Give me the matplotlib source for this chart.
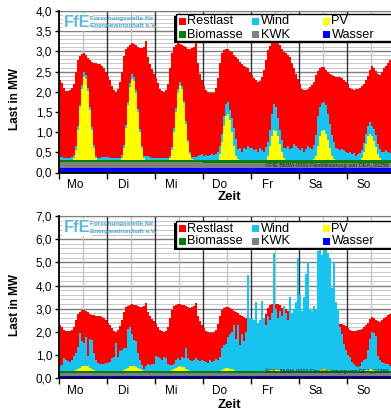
import numpy as np
import matplotlib
matplotlib.use("Agg")
import matplotlib.pyplot as plt
from matplotlib.patches import Rectangle

plt.rcParams['font.family'] = ['Liberation Sans', 'DejaVu Sans']

# ---------------- data (hourly, one week) ----------------
days = ["Mo", "Di", "Mi", "Do", "Fr", "Sa", "So"]
series_names = ["Restlast", "Wind", "PV", "Biomasse", "KWK", "Wasser"]

load_mo = [2.30, 2.22, 2.10, 2.03, 2.02, 2.04, 2.10, 2.20, 2.50, 2.78, 2.88, 2.93, 2.96, 2.90, 2.84, 2.78, 2.74, 2.72, 2.70, 2.69, 2.68, 2.64, 2.60, 2.50]
load_di = [2.38, 2.28, 2.15, 2.04, 2.00, 2.07, 2.24, 2.50, 2.88, 3.07, 3.12, 3.16, 3.20, 3.18, 3.15, 3.12, 3.08, 3.08, 3.12, 3.25, 2.85, 2.68, 2.56, 2.45]
load_mi = [2.35, 2.22, 2.08, 2.02, 2.00, 2.05, 2.20, 2.60, 2.95, 3.10, 3.16, 3.20, 3.19, 3.17, 3.14, 3.10, 3.07, 3.05, 3.08, 3.12, 3.24, 2.70, 2.45, 2.30]
load_do = [2.15, 2.05, 1.99, 1.97, 1.97, 1.98, 2.10, 2.35, 2.70, 2.95, 3.03, 3.06, 3.07, 3.02, 2.98, 2.92, 2.87, 2.80, 2.74, 2.68, 2.65, 2.62, 2.58, 2.50]
load_fr = [2.42, 2.35, 2.28, 2.25, 2.27, 2.37, 2.55, 2.78, 3.03, 3.14, 3.20, 3.22, 3.22, 3.20, 3.15, 3.05, 2.98, 2.97, 2.92, 2.86, 2.72, 2.58, 2.45, 2.32]
load_sa = [2.20, 2.08, 2.04, 2.05, 2.08, 2.12, 2.16, 2.25, 2.42, 2.52, 2.58, 2.62, 2.62, 2.55, 2.48, 2.45, 2.42, 2.40, 2.36, 2.36, 2.36, 2.34, 2.30, 2.25]
load_so = [2.18, 2.10, 2.06, 2.05, 2.06, 2.08, 2.10, 2.14, 2.20, 2.30, 2.40, 2.55, 2.65, 2.60, 2.52, 2.45, 2.42, 2.50, 2.60, 2.65, 2.72, 2.78, 2.80, 2.80]

# daily base generation (MW)
wasser_daily = [0.10, 0.10, 0.10, 0.10, 0.10, 0.10, 0.10]
kwk_daily = [0.15, 0.15, 0.15, 0.14, 0.14, 0.14, 0.14]
bio_daily = [0.06, 0.06, 0.06, 0.06, 0.06, 0.06, 0.06]

# upper chart: PV and wind (today)
pv1_mo = [0]*7 + [0.05, 0.25, 0.75, 1.30, 1.75, 2.05, 2.00, 1.70, 1.25, 0.75, 0.30, 0.05] + [0]*5
pv1_di = [0]*7 + [0.05, 0.30, 0.80, 1.35, 1.80, 2.00, 1.95, 1.65, 1.20, 0.70, 0.30, 0.05] + [0]*5
pv1_mi = [0]*7 + [0.05, 0.25, 0.70, 1.20, 1.65, 1.85, 1.75, 1.40, 0.90, 0.45, 0.15, 0.02] + [0]*5
pv1_do = [0]*7 + [0.02, 0.15, 0.45, 0.85, 1.10, 1.15, 1.00, 0.70, 0.35, 0.12, 0.03, 0.00] + [0]*5
pv1_fr = [0]*7 + [0.02, 0.10, 0.35, 0.60, 0.75, 0.72, 0.60, 0.40, 0.20, 0.05, 0.00, 0.00] + [0]*5
pv1_sa = [0]*7 + [0.03, 0.12, 0.35, 0.60, 0.72, 0.75, 0.65, 0.50, 0.30, 0.12, 0.03, 0.00] + [0]*5
pv1_so = [0]*7 + [0.05, 0.20, 0.40, 0.60, 0.66, 0.60, 0.48, 0.32, 0.15, 0.05, 0.00, 0.00] + [0]*5

wind1_mo = [0.08, 0.07, 0.06, 0.05, 0.05, 0.06, 0.07, 0.08, 0.10, 0.08, 0.07, 0.10, 0.12, 0.10, 0.08, 0.07, 0.06, 0.07, 0.06, 0.05, 0.06, 0.07, 0.08, 0.08]
wind1_di = [0.07, 0.06, 0.06, 0.05, 0.05, 0.05, 0.06, 0.08, 0.08, 0.07, 0.08, 0.10, 0.12, 0.10, 0.08, 0.07, 0.06, 0.05, 0.06, 0.10, 0.09, 0.07, 0.06, 0.05]
wind1_mi = [0.05, 0.05, 0.04, 0.04, 0.05, 0.05, 0.06, 0.06, 0.07, 0.08, 0.08, 0.10, 0.09, 0.08, 0.07, 0.06, 0.05, 0.05, 0.06, 0.07, 0.08, 0.10, 0.12, 0.14]
wind1_do = [0.12, 0.13, 0.12, 0.14, 0.15, 0.14, 0.15, 0.18, 0.20, 0.20, 0.25, 0.30, 0.30, 0.25, 0.35, 0.45, 0.40, 0.25, 0.30, 0.22, 0.30, 0.28, 0.35, 0.30]
wind1_fr = [0.30, 0.25, 0.28, 0.20, 0.30, 0.25, 0.22, 0.30, 0.35, 0.40, 0.55, 0.65, 0.60, 0.45, 0.35, 0.30, 0.25, 0.30, 0.35, 0.28, 0.30, 0.40, 0.35, 0.30]
wind1_sa = [0.25, 0.30, 0.22, 0.28, 0.35, 0.30, 0.28, 0.35, 0.50, 0.75, 0.72, 0.70, 0.70, 0.72, 0.65, 0.60, 0.50, 0.42, 0.30, 0.28, 0.25, 0.28, 0.25, 0.22]
wind1_so = [0.18, 0.20, 0.15, 0.18, 0.12, 0.15, 0.18, 0.20, 0.22, 0.25, 0.25, 0.28, 0.25, 0.30, 0.30, 0.25, 0.22, 0.20, 0.22, 0.25, 0.20, 0.18, 0.20, 0.18]

# lower chart: PV and wind (scenario)
pv2_mo = [0]*7 + [0.01, 0.03, 0.09, 0.15, 0.21, 0.24, 0.23, 0.20, 0.15, 0.09, 0.04, 0.01] + [0]*5
pv2_di = [0]*7 + [0.01, 0.03, 0.09, 0.15, 0.20, 0.22, 0.21, 0.18, 0.13, 0.08, 0.03, 0.01] + [0]*5
pv2_mi = [0]*7 + [0.01, 0.03, 0.08, 0.13, 0.18, 0.20, 0.19, 0.16, 0.11, 0.06, 0.02, 0.00] + [0]*5
pv2_do = [0]*7 + [0.01, 0.03, 0.06, 0.10, 0.13, 0.14, 0.12, 0.09, 0.05, 0.02, 0.01, 0.00] + [0]*5
pv2_fr = [0]*8 + [0.01, 0.04, 0.07, 0.09, 0.09, 0.07, 0.05, 0.02, 0.01] + [0]*7
pv2_sa = [0]*8 + [0.01, 0.03, 0.06, 0.08, 0.09, 0.08, 0.06, 0.04, 0.02, 0.01] + [0]*6
pv2_so = [0]*7 + [0.01, 0.02, 0.05, 0.07, 0.08, 0.07, 0.06, 0.04, 0.02, 0.01] + [0]*7

wind2_mo = [0.20, 0.25, 0.55, 0.50, 0.45, 0.40, 0.50, 0.64, 0.77, 0.96, 1.50, 1.09, 0.96, 1.22, 0.45, 1.25, 1.26, 0.76, 0.49, 0.35, 0.30, 0.32, 0.30, 0.35]
wind2_di = [0.35, 0.40, 0.55, 0.60, 1.20, 0.60, 0.85, 0.89, 0.97, 0.91, 1.65, 1.70, 1.38, 1.14, 1.12, 0.67, 0.42, 0.22, 0.09, 0.20, 0.30, 0.25, 0.30, 0.30]
wind2_mi = [0.65, 0.60, 0.55, 0.50, 0.60, 0.55, 0.30, 0.24, 0.22, 0.22, 0.37, 0.37, 0.30, 0.41, 0.39, 0.89, 0.49, 0.44, 0.43, 0.50, 0.55, 0.50, 0.45, 0.50]
wind2_do = [0.45, 0.40, 0.35, 0.50, 0.40, 0.45, 0.55, 0.49, 0.57, 0.94, 1.05, 1.07, 1.36, 1.48, 1.62, 1.96, 1.38, 2.00, 1.15, 1.60, 1.30, 1.70, 4.15, 2.30]
wind2_fr = [2.30, 2.20, 3.00, 2.10, 2.20, 3.05, 2.30, 2.00, 2.39, 2.16, 2.43, 5.01, 2.61, 2.23, 2.55, 2.38, 2.79, 2.50, 2.20, 3.20, 2.50, 2.70, 3.00, 4.90]
wind2_sa = [3.30, 2.60, 3.20, 4.20, 4.70, 2.70, 2.60, 2.80, 2.69, 5.17, 5.34, 4.92, 5.41, 5.22, 5.04, 4.86, 3.58, 4.69, 3.00, 2.70, 1.90, 1.60, 1.20, 0.90]
wind2_so = [0.70, 0.60, 0.40, 0.30, 0.25, 0.20, 0.25, 0.39, 0.48, 0.50, 0.83, 1.33, 1.62, 1.60, 1.49, 0.66, 0.48, 0.40, 0.35, 0.30, 0.30, 0.25, 0.20, 0.25]

y1_ticks = [0.0, 0.5, 1.0, 1.5, 2.0, 2.5, 3.0, 3.5, 4.0]
y2_ticks = [0.0, 1.0, 2.0, 3.0, 4.0, 5.0, 6.0, 7.0]

# ---------------- assemble ----------------
load = np.array(load_mo + load_di + load_mi + load_do + load_fr + load_sa + load_so)
wasser = np.repeat(wasser_daily, 24)
kwk = np.repeat(kwk_daily, 24)
bio = np.repeat(bio_daily, 24)
pv1 = np.array(pv1_mo + pv1_di + pv1_mi + pv1_do + pv1_fr + pv1_sa + pv1_so)
wind1 = np.array(wind1_mo + wind1_di + wind1_mi + wind1_do + wind1_fr + wind1_sa + wind1_so)
pv2 = np.array(pv2_mo + pv2_di + pv2_mi + pv2_do + pv2_fr + pv2_sa + pv2_so)
wind2 = np.array(wind2_mo + wind2_di + wind2_mi + wind2_do + wind2_fr + wind2_sa + wind2_so)

colors = {"Restlast": "#FF0000", "Wind": "#17C4F0", "PV": "#FFFF00",
          "Biomasse": "#008000", "KWK": "#808080", "Wasser": "#0000FF"}

W, H = 391, 412
fig = plt.figure(figsize=(W / 100, H / 100), dpi=100)


def fx(x):
    return x / W


def fy(y):
    return 1 - y / H


def draw_panel(ax_top_px, ax_bot_px, pv, wind, yticks, minor_step, legend_top):
    ax = fig.add_axes([fx(59), fy(ax_bot_px), fx(395) - fx(59), fy(ax_top_px) - fy(ax_bot_px)])
    n = len(load)
    x = np.arange(n + 1)
    gen = wasser + kwk + bio + pv + wind
    rest = np.clip(load - gen, 0, None)
    layers = [("Wasser", wasser), ("KWK", kwk), ("Biomasse", bio), ("PV", pv),
              ("Wind", wind), ("Restlast", rest)]
    # cumulative tops, painted from the top layer down (no seams)
    tops = []
    base = np.zeros(n)
    for name, arr in layers:
        base = base + arr
        tops.append((name, base.copy()))
    for z, (name, top) in enumerate(reversed(tops)):
        ax.fill_between(x, 0, np.append(top, top[-1]), step='post',
                        facecolor=colors[name], edgecolor='none', lw=0, zorder=2 + z * 0.01)
    ymax = yticks[-1]
    ax.set_xlim(0, n)
    ax.set_ylim(0, ymax)
    # grid
    minor = np.arange(0, ymax + 1e-9, minor_step)
    for v in minor:
        ax.axhline(v, color="#C8C8C8", lw=0.7, zorder=0.5)
    for v in yticks:
        ax.axhline(v, color="#7F7F7F", lw=1.0, zorder=0.6)
    for d in range(7):
        ax.axvline(24 * d + 12, color="#C0C0C0", lw=0.9, zorder=0.6)
    for d in range(1, 7):
        ax.axvline(24 * d, color="#333333", lw=1.0, zorder=0.7)
    ax.set_yticks(yticks)
    ax.set_yticklabels([("%.1f" % v).replace(".", ",") for v in yticks], fontsize=8.5)
    ax.set_xticks([24 * d for d in range(8)])
    ax.set_xticklabels([])
    ax.set_xticks([24 * d + 8.3 for d in range(7)], minor=True)
    ax.set_xticklabels(days, minor=True, fontsize=8.5)
    ax.tick_params(axis='x', which='major', length=4, width=1, direction='out')
    ax.tick_params(axis='x', which='minor', length=0, pad=5)
    ax.tick_params(axis='y', length=3, width=1, direction='out', pad=2)
    for s in ["left", "bottom"]:
        ax.spines[s].set_color("black")
        ax.spines[s].set_linewidth(1.3)
        ax.spines[s].set_zorder(5)
    ax.spines["top"].set_color("#7F7F7F")
    ax.spines["right"].set_visible(False)

    # logo
    ty = ax_top_px
    fig.text(fx(64), fy(ty + 11.5), "FfE", fontsize=12, fontweight='bold', color="#5DB9DC",
             va='center', ha='left',
             bbox=dict(facecolor='white', edgecolor='none', pad=0.8))
    fig.text(fx(90), fy(ty + 7.5), "Forschungsstelle für", fontsize=4.6, color="#3FA5CC",
             va='center', ha='left', fontweight='bold')
    fig.text(fx(90), fy(ty + 15), "Energiewirtschaft e.V.", fontsize=4.6, color="#3FA5CC",
             va='center', ha='left', fontweight='bold')

    # copyright
    fig.text(fx(388), fy(ax_bot_px - 7), "\u00a9FfE BMWi-0002 Flexibilisierung von DEA_00259",
             fontsize=4.0, color="#222222", ha='right', va='center', zorder=5)

    # legend (manual, Excel style)
    lt = legend_top
    lb = legend_top + 27
    shadow = Rectangle((fx(174), fy(lb + 2)), fx(400) - fx(174), fy(lt + 2) - fy(lb + 2),
                       transform=fig.transFigure, facecolor="black", edgecolor="none", zorder=8)
    box = Rectangle((fx(176), fy(lb)), fx(400) - fx(176), fy(lt) - fy(lb),
                    transform=fig.transFigure, facecolor="white", edgecolor="black", lw=1.0, zorder=9)
    fig.add_artist(shadow)
    fig.add_artist(box)
    rows = [lt + 7.5, lt + 20.5]
    cols = [178.5, 251.5, 322.5]
    order = [["Restlast", "Wind", "PV"], ["Biomasse", "KWK", "Wasser"]]
    for r, row in enumerate(order):
        for c, name in enumerate(row):
            sq = Rectangle((fx(cols[c]), fy(rows[r] + 3.5)), fx(7) - fx(0), fy(0) - fy(7),
                           transform=fig.transFigure, facecolor=colors[name], edgecolor='none', zorder=10)
            fig.add_artist(sq)
            fig.text(fx(cols[c] + 9), fy(rows[r]), name, fontsize=9.2, color="black",
                     va='center', ha='left', zorder=11)
    return ax


ax1 = draw_panel(11, 172.5, pv1, wind1, y1_ticks, 0.1, 14)
ax2 = draw_panel(216, 378.3, pv2, wind2, y2_ticks, 0.2, 221)

for yc in (99.5, 305):
    fig.text(fx(15), fy(yc), "Last in MW", rotation=90, fontsize=8.5, fontweight='bold',
             va='center', ha='center')
for yc in (197, 405):
    fig.text(fx(229), fy(yc), "Zeit", fontsize=9.5, fontweight='bold', va='center', ha='center')

fig.savefig("out.png", dpi=100)
